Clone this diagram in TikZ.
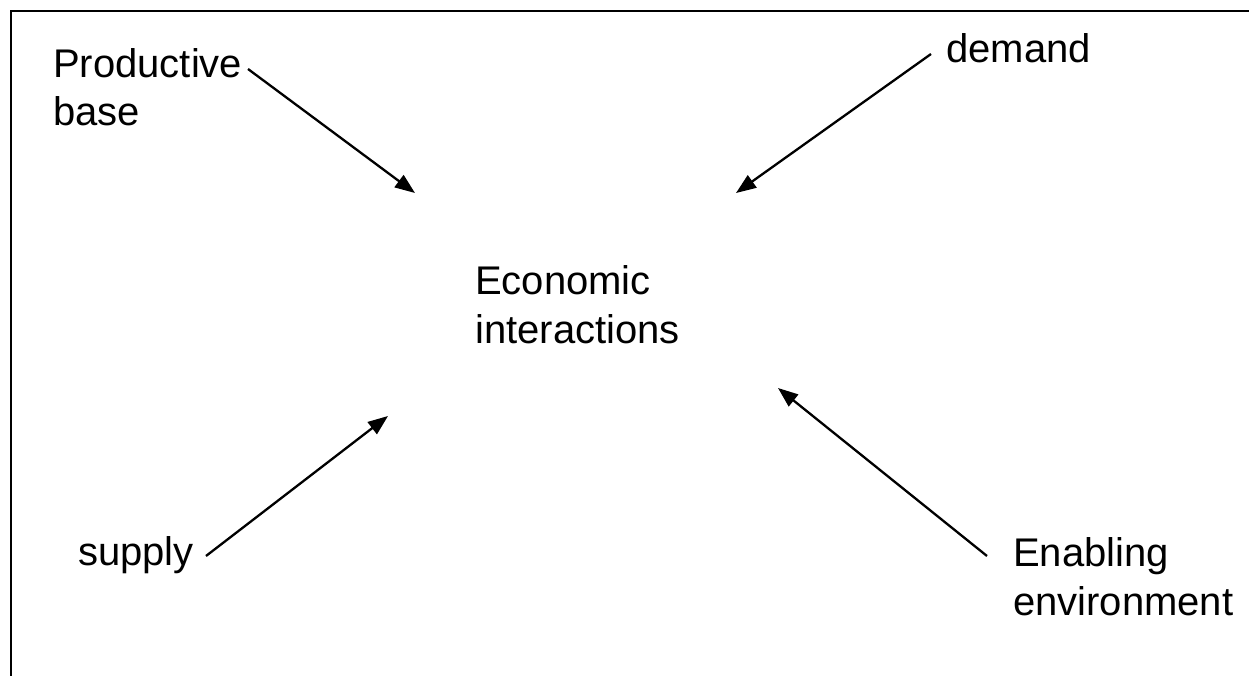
\documentclass[tikz,border=0pt]{standalone}
\usepackage{fontspec}
\setmainfont{Liberation Sans}
\usetikzlibrary{arrows.meta}
\begin{document}
\begin{tikzpicture}[x=1pt,y=-1pt,
  lbl/.style={inner sep=0pt,anchor=base west,align=left,font=\fontsize{40}{48.5}\selectfont},
  arr/.style={line width=2.3pt,-{Triangle[length=20pt,width=15pt]}},
  frame/.style={line width=2.4pt}]
\useasboundingbox (0,0) rectangle (1249,676);
\draw[frame] (11,676) -- (11,11) -- (1249,11);
\node[lbl] (prod) at (53,126) {Productive\\base};
\node[lbl] (dem) at (946,63) {demand};
\node[lbl] (econ) at (475,343) {Economic\\interactions};
\node[lbl] (sup) at (78,565) {supply};
\node[lbl] (enab) at (1013,615) {Enabling\\environment};
\coordinate (prodS) at (248,69);
\coordinate (prodT) at (415,193);
\coordinate (demS) at (931,54);
\coordinate (demT) at (736,193);
\coordinate (supS) at (206,556);
\coordinate (supT) at (388,416);
\coordinate (enabS) at (987,556);
\coordinate (enabT) at (778,388);
\draw[arr] (prodS) -- (prodT);
\draw[arr] (demS) -- (demT);
\draw[arr] (supS) -- (supT);
\draw[arr] (enabS) -- (enabT);
\end{tikzpicture}
\end{document}
